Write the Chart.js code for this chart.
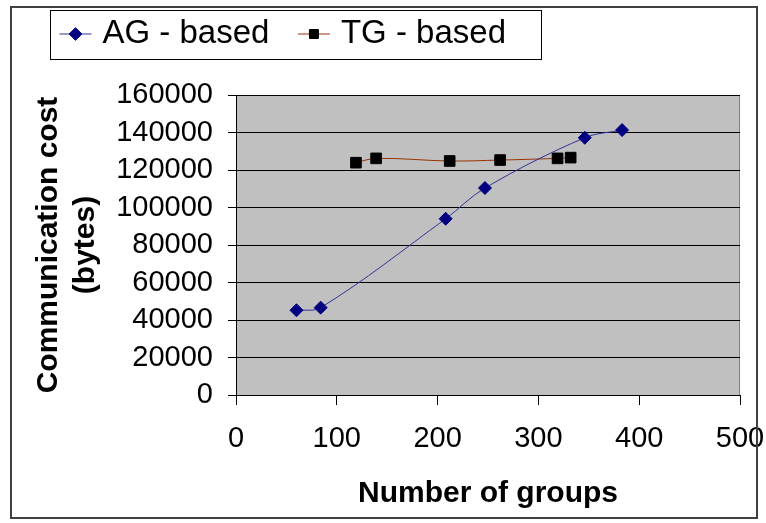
<!DOCTYPE html>
<html>
<head>
<meta charset="utf-8">
<script src="https://cdn.jsdelivr.net/npm/chart.js@4"></script>
<style>
  html, body { margin: 0; padding: 0; background: #fff; }
  #wrap { width: 766px; height: 523px; }
</style>
</head>
<body>
<div id="wrap"><canvas id="costChart" width="766" height="523"></canvas></div>
<script>
// number of groups (x) and communication cost in bytes (y)
const agGroups = [60, 84, 208, 247, 346, 383];
const agCost = [45200, 46600, 94000, 110400, 137200, 141300];
const tgGroups = [119, 139, 212, 262, 319, 332];
const tgCost = [123900, 126200, 124800, 125300, 126200, 126600];
const seriesLabels = ['AG - based', 'TG - based'];
const xTitle = 'Number of groups';
const yTitle = ['Communication cost', '(bytes)'];

function toPoints(xs, ys) {
    return xs.map((x, i) => ({ x: x, y: ys[i] }));
}

Chart.defaults.font.family = 'Arial, "Liberation Sans", sans-serif';
Chart.defaults.color = '#000';

// grey plot area, line pieces behind the legend markers, boxes round legend and chart
const excelFrame = {
    id: 'excelFrame',
    afterLayout(chart) {
        // move the legend up into the top-left corner like in the original
        const lg = chart.legend;
        lg.top -= 34.5;
        lg.bottom -= 34.5;
        lg.left += 20;
        lg.right += 20;
    },
    beforeDraw(chart) {
        const ctx = chart.ctx;
        const a = chart.chartArea;
        ctx.save();
        ctx.fillStyle = '#c0c0c0';
        ctx.fillRect(a.left, a.top, a.right - a.left, a.bottom - a.top);
        ctx.strokeStyle = '#808080';
        ctx.lineWidth = 1;
        ctx.strokeRect(a.left + 0.5, a.top + 0.5, a.right - a.left - 1, a.bottom - a.top);

        const boxes = chart.legend.legendHitBoxes;
        boxes.forEach((box, i) => {
            const ds = chart.data.datasets[i];
            const cx = box.left + 10.5;
            const cy = box.top + box.height / 2;
            ctx.strokeStyle = ds.borderColor;
            ctx.lineWidth = 1;
            ctx.beginPath();
            ctx.moveTo(cx - 16, cy);
            ctx.lineTo(cx + 16, cy);
            ctx.stroke();
        });
        ctx.restore();
    },
    afterDraw(chart) {
        const ctx = chart.ctx;
        const boxes = chart.legend.legendHitBoxes;
        const first = boxes[0];
        const last = boxes[boxes.length - 1];
        ctx.save();
        ctx.strokeStyle = '#000';
        ctx.lineWidth = 1;
        const lx = Math.round(first.left - 15) + 0.5;
        const ly = Math.round(first.top - 8) + 0.5;
        const rx = Math.round(last.left + last.width + 35) + 0.5;
        const by = Math.round(first.top + first.height + 8) + 0.5;
        ctx.strokeRect(lx, ly, rx - lx, by - ly);
        ctx.strokeStyle = '#404040';
        ctx.lineWidth = 2;
        ctx.strokeRect(11, 7, chart.width - 20, chart.height - 12);
        ctx.restore();
    }
};

const ctx = document.getElementById('costChart').getContext('2d');
new Chart(ctx, {
    type: 'line',
    data: {
        datasets: [{
            label: seriesLabels[0],
            data: toPoints(agGroups, agCost),
            borderColor: '#333399',
            backgroundColor: '#000080',
            borderWidth: 1,
            pointStyle: 'rectRot',
            pointRadius: 6.5,
            pointBackgroundColor: '#000080',
            pointBorderColor: '#000080',
            tension: 0.35
        }, {
            label: seriesLabels[1],
            data: toPoints(tgGroups, tgCost),
            borderColor: '#993300',
            backgroundColor: '#000',
            borderWidth: 1,
            pointStyle: 'rect',
            pointRadius: 7.5,
            pointBackgroundColor: '#000',
            pointBorderColor: '#000',
            tension: 0.35
        }]
    },
    options: {
        responsive: false,
        animation: false,
        devicePixelRatio: 1,
        layout: { padding: { left: 11, top: 18, right: 26, bottom: 6 } },
        plugins: {
            legend: {
                position: 'top',
                align: 'start',
                labels: {
                    usePointStyle: true,
                    boxWidth: 21,
                    boxHeight: 9,
                    padding: 34,
                    font: { size: 33 },
                    color: '#000'
                }
            },
            tooltip: { enabled: false }
        },
        scales: {
            x: {
                type: 'linear',
                min: 0,
                max: 500,
                ticks: { stepSize: 100, autoSkip: false, font: { size: 29 }, padding: 17, color: '#000' },
                grid: { drawOnChartArea: false, drawTicks: true, tickLength: 10, color: '#000' },
                border: { color: '#000' },
                title: {
                    display: true,
                    text: xTitle,
                    font: { size: 30, weight: 'bold' },
                    padding: { top: 0, bottom: 5 }
                },
                afterFit(scale) {
                    scale.height = 122;
                    scale.paddingLeft = 0;
                    scale.paddingRight = 0;
                }
            },
            y: {
                min: 0,
                max: 160000,
                ticks: {
                    stepSize: 20000,
                    autoSkip: false,
                    font: { size: 29 },
                    padding: 15,
                    color: '#000',
                    callback: function (value) { return String(value); }
                },
                grid: { color: '#000', tickLength: 8 },
                border: { color: '#000' },
                title: {
                    display: true,
                    text: yTitle,
                    font: { size: 30, weight: 'bold', lineHeight: 1.25 },
                    padding: { top: 18.75, bottom: 0 }
                },
                afterFit(scale) { scale.width = 225; }
            }
        }
    },
    plugins: [excelFrame]
});
</script>
</body>
</html>
